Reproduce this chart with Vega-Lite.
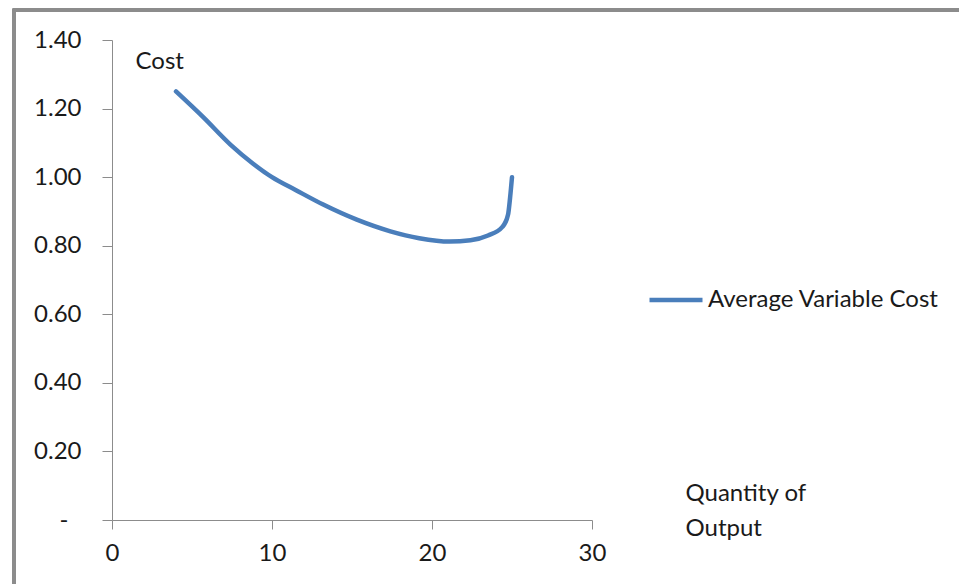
{
  "$schema": "https://vega.github.io/schema/vega-lite/v6.json",
  "width": 480,
  "height": 480,
  "autosize": {"type": "none"},
  "padding": {"left": 112, "top": 40, "right": 367, "bottom": 64},
  "background": "white",
  "config": {
    "view": {"stroke": null},
    "font": "Lato",
    "axis": {"grid": false, "domainColor": "#8c8c8c", "tickColor": "#8c8c8c", "labelColor": "#1a1a1a", "titleColor": "#1a1a1a", "labelFont": "Lato", "titleFont": "Lato", "labelFontSize": 24, "titleFontSize": 24, "titleFontWeight": "normal", "labelFlush": false}
  },
  "data": {"values": [
    {"q": 4.0, "avc": 1.25, "series": "Average Variable Cost"},
    {"q": 5.7, "avc": 1.175, "series": "Average Variable Cost"},
    {"q": 7.4, "avc": 1.095, "series": "Average Variable Cost"},
    {"q": 8.8, "avc": 1.04, "series": "Average Variable Cost"},
    {"q": 10.0, "avc": 1.0, "series": "Average Variable Cost"},
    {"q": 11.5, "avc": 0.962, "series": "Average Variable Cost"},
    {"q": 13.2, "avc": 0.92, "series": "Average Variable Cost"},
    {"q": 15.3, "avc": 0.876, "series": "Average Variable Cost"},
    {"q": 17.4, "avc": 0.842, "series": "Average Variable Cost"},
    {"q": 19.2, "avc": 0.822, "series": "Average Variable Cost"},
    {"q": 21.1, "avc": 0.812, "series": "Average Variable Cost"},
    {"q": 22.4, "avc": 0.816, "series": "Average Variable Cost"},
    {"q": 23.5, "avc": 0.83, "series": "Average Variable Cost"},
    {"q": 24.4, "avc": 0.855, "series": "Average Variable Cost"},
    {"q": 24.75, "avc": 0.89, "series": "Average Variable Cost"},
    {"q": 24.88, "avc": 0.94, "series": "Average Variable Cost"},
    {"q": 25.0, "avc": 1.0, "series": "Average Variable Cost"}
  ]},
  "layer": [
    {
      "mark": {"type": "rect", "fill": null, "stroke": "#8c8c8c", "strokeWidth": 2.5, "clip": false},
      "encoding": {
        "x": {"datum": -6.125, "type": "quantitative"},
        "x2": {"datum": 70},
        "y": {"datum": 1.4875, "type": "quantitative"},
        "y2": {"datum": -1}
      }
    },
    {
      "mark": {"type": "line", "interpolate": "monotone", "strokeWidth": 4.5, "strokeCap": "round", "strokeJoin": "round"},
      "encoding": {
        "x": {
          "field": "q", "type": "quantitative",
          "scale": {"domain": [0, 30], "nice": false, "zero": false},
          "axis": {
            "values": [0, 10, 20, 30],
            "tickSize": 9,
            "labelPadding": 12,
            "title": ["Quantity of", "Output"],
            "titleAnchor": "start",
            "titleAlign": "left",
            "titleBaseline": "alphabetic",
            "titleX": 573,
            "titleY": -20,
            "titleLineHeight": 35
          }
        },
        "y": {
          "field": "avc", "type": "quantitative",
          "scale": {"domain": [0, 1.4], "nice": false, "zero": false},
          "axis": {
            "values": [0, 0.2, 0.4, 0.6, 0.8, 1.0, 1.2, 1.4],
            "tickSize": 10,
            "labelPadding": {"condition": {"test": "datum.value == 0", "value": 34}, "value": 21},
            "labelExpr": "datum.value == 0 ? '-' : format(datum.value, '.2f')",
            "title": "Cost",
            "titleAngle": 0,
            "titleAlign": "left",
            "titleBaseline": "alphabetic",
            "titleX": 23,
            "titleY": 28
          }
        },
        "color": {
          "field": "series", "type": "nominal",
          "scale": {"range": ["#4a7ebb"]},
          "legend": {
            "title": null,
            "orient": "none",
            "legendX": 535,
            "legendY": 231,
            "padding": 0,
            "symbolType": "stroke",
            "symbolSize": 2809,
            "symbolStrokeWidth": 4.5,
            "labelFont": "Lato",
            "labelFontSize": 24,
            "labelColor": "#1a1a1a",
            "labelOffset": 3,
            "labelLimit": 0
          }
        }
      }
    }
  ]
}
